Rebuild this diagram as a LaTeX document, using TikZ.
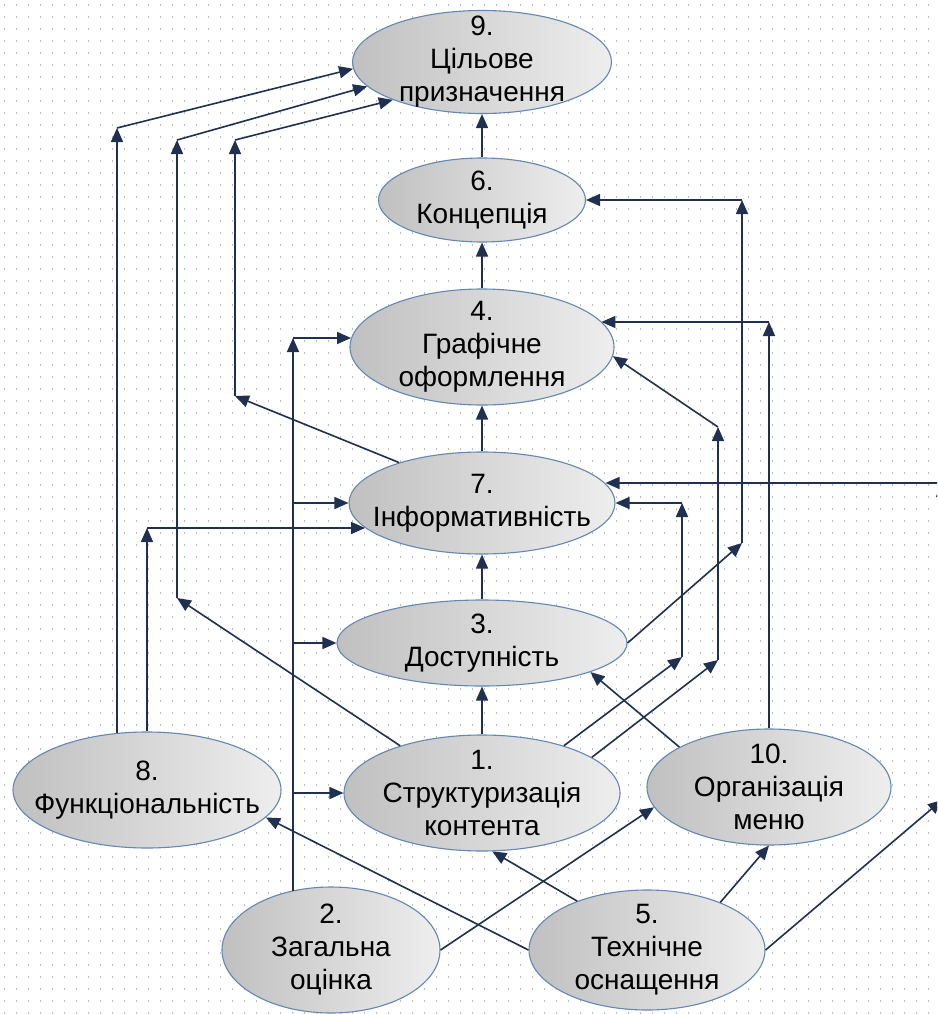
\documentclass[tikz,border=0pt]{standalone}
\usepackage{fontspec}
\setmainfont{Liberation Sans}
\usetikzlibrary{shapes.geometric,arrows.meta}
\definecolor{wire}{HTML}{1F3050}
\definecolor{rim}{HTML}{6487B4}
\definecolor{griddot}{HTML}{B8BEC6}
\definecolor{fillA}{HTML}{C0C0C0}
\definecolor{fillB}{HTML}{EEEEEE}

\begin{document}
\begin{tikzpicture}[x=1pt,y=-1pt,
  bubble/.style={ellipse, draw=rim, line width=1.1pt, left color=fillA,
    right color=fillB, inner sep=0pt},
  caption/.style={align=center, text=black, inner sep=0pt,
    font=\fontsize{28}{33}\selectfont},
  conn/.style={draw=wire, line width=1.6pt, -{Triangle[length=14pt,width=12pt]}},
  gridrow/.style={draw=griddot, line width=1.2pt, dash pattern=on 1.2pt off 10.8pt},
]
\useasboundingbox (0,0) rectangle (937,1014);
\clip (0,0) rectangle (937,1014);
\fill[white] (0,0) rectangle (937,1014);

% dotted drawing grid
\foreach \yy in {5,17,...,1013}
  \draw[gridrow] (4,\yy) -- (937,\yy);

% criteria: ellipses
\node[bubble, minimum width=259pt, minimum height=103pt] (n9)  at (482,62)  {};
\node[bubble, minimum width=207pt, minimum height=84pt]  (n6)  at (482,200) {};
\node[bubble, minimum width=264pt, minimum height=116pt] (n4)  at (482,347) {};
\node[bubble, minimum width=266pt, minimum height=102pt] (n7)  at (482,503) {};
\node[bubble, minimum width=290pt, minimum height=86pt]  (n3)  at (482,643) {};
\node[bubble, minimum width=276pt, minimum height=116pt] (n1)  at (482,793) {};
\node[bubble, minimum width=268pt, minimum height=116pt] (n8)  at (147,790) {};
\node[bubble, minimum width=244pt, minimum height=116pt] (n10) at (769,787) {};
\node[bubble, minimum width=218pt, minimum height=126pt] (n2)  at (331,950) {};
\node[bubble, minimum width=236pt, minimum height=120pt] (n5)  at (647,950) {};

% criteria: captions
\node[caption] (t9)  at (n9)  {9.\\Цільове\\призначення};
\node[caption] (t6)  at (n6)  {6.\\Концепція};
\node[caption] (t4)  at (n4)  {4.\\Графічне\\оформлення};
\node[caption] (t7)  at (n7)  {7.\\Інформативність};
\node[caption] (t3)  at (n3)  {3.\\Доступність};
\node[caption] (t1)  at (n1)  {1.\\Структуризація\\контента};
\node[caption] (t8)  at (n8)  {8.\\Функціональність};
\node[caption] (t10) at (n10) {10.\\Організація\\меню};
\node[caption] (t2)  at (n2)  {2.\\Загальна\\оцінка};
\node[caption] (t5)  at (n5)  {5.\\Технічне\\оснащення};

% bend points of the routed connectors
\coordinate (b1) at (117,128);
\coordinate (b2) at (147,528);
\coordinate (b3) at (177,598);
\coordinate (b4) at (177,140);
\coordinate (b5) at (235,396);
\coordinate (b6) at (235,140);
\coordinate (c2) at (293,338);
\coordinate (d1) at (682,657);
\coordinate (d2) at (682,503);
\coordinate (e1) at (718,660);
\coordinate (e2) at (718,427);
\coordinate (f1) at (742,543);
\coordinate (f2) at (742,200);
\coordinate (g1) at (769,322);
\coordinate (h1) at (942,800);
\coordinate (h2) at (942,483);

% central column
\draw[conn] (n6) -- (n9);
\draw[conn] (n4) -- (n6);
\draw[conn] (n7) -- (n4);
\draw[conn] (n3) -- (n7);
\draw[conn] (n1) -- (n3);

% 8 -> 9, 8 -> 7
\draw[conn] (b1 |- n8.118) -- (b1);
\draw[conn] (b1) -- (n9.183);
\draw[conn] (n8.north) -- (b2);
\draw[conn] (b2) -- (n7.192 |- b2);

% 1 -> 9
\draw[conn] (n1.150) -- (b3);
\draw[conn] (b3) -- (b4);
\draw[conn] (b4) -- (n9.192);

% 7 -> 9
\draw[conn] (n7.154) -- (b5);
\draw[conn] (b5) -- (b6);
\draw[conn] (b6) -- (n9.203);

% 2 -> 4, 7, 3, 1
\draw[conn] (c2 |- n2.123) -- (c2);
\draw[conn] (c2) -- (n4.176 |- c2);
\draw[conn] (c2 |- n7.west) -- (n7.west);
\draw[conn] (c2 |- n3.west) -- (n3.west);
\draw[conn] (c2 |- n1.west) -- (n1.west);

% 1 -> 7, 1 -> 4
\draw[conn] (n1.30) -- (d1);
\draw[conn] (d1) -- (d2);
\draw[conn] (d2) -- (n7.east);
\draw[conn] (n1.18) -- (e1);
\draw[conn] (e1) -- (e2);
\draw[conn] (e2) -- (n4.356);

% 3 -> 6
\draw[conn] (n3.east) -- (f1);
\draw[conn] (f1) -- (f2);
\draw[conn] (f2) -- (n6.east);

% 10 -> 4, 10 -> 3
\draw[conn] (n10.north) -- (g1);
\draw[conn] (g1) -- (n4.12 |- g1);
\draw[conn] (n10.156) -- (n3.345);

% 5 -> 7, 10, 1, 8
\draw[conn] (n5.east) -- (h1);
\draw[conn] (h1) -- (h2);
\draw[conn] (h2) -- (n7.9 |- h2);
\draw[conn] (n5.33) -- (n10.south);
\draw[conn] (n5.145) -- (n1.280);
\draw[conn] (n5.west) -- (n8.347);

% 2 -> 10
\draw[conn] (n2.east) -- (n10.190);
\end{tikzpicture}
\end{document}
